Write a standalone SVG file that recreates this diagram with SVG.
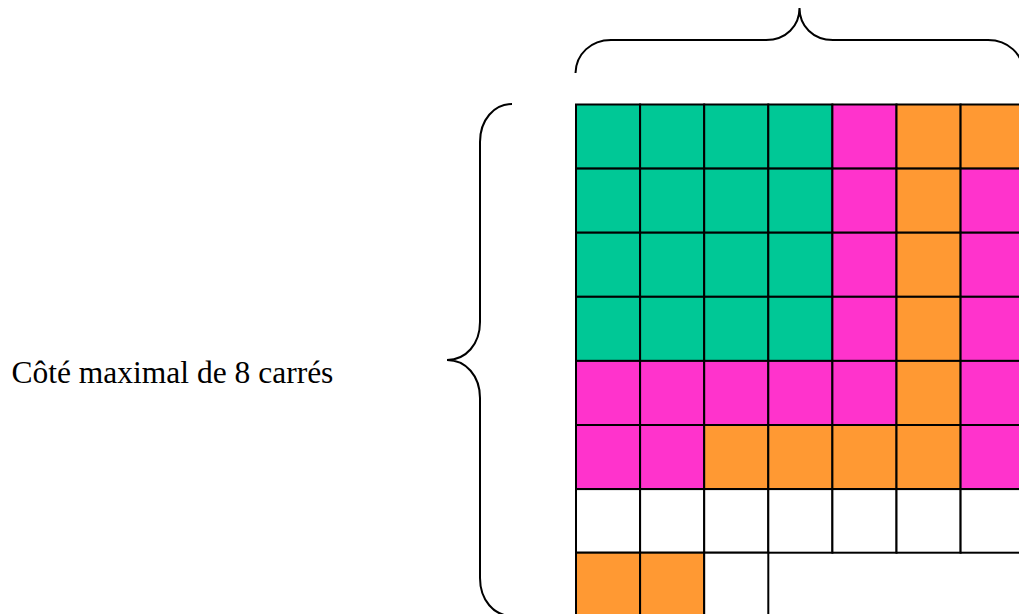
<svg xmlns="http://www.w3.org/2000/svg" width="1019" height="614" viewBox="0 0 1019 614">
<style>
.g{fill:#00C896}.m{fill:#FF33CC}.o{fill:#FF9933}.w{fill:#FFFFFF}
.cell rect{stroke:#000;stroke-width:2}
.brace{fill:none;stroke:#000;stroke-width:2}
.lbl{font-family:"Liberation Serif","Times New Roman",serif;font-size:31.5px;fill:#000}
</style>
<rect width="1019" height="614" fill="#fff"/>
<g id="grid" class="cell">
<!-- row 0 -->
<rect class="g" x="576" y="104.5" width="64.1" height="64.1"/>
<rect class="g" x="640.1" y="104.5" width="64.1" height="64.1"/>
<rect class="g" x="704.2" y="104.5" width="64.1" height="64.1"/>
<rect class="g" x="768.3" y="104.5" width="64.1" height="64.1"/>
<rect class="m" x="832.4" y="104.5" width="64.1" height="64.1"/>
<rect class="o" x="896.5" y="104.5" width="64.1" height="64.1"/>
<rect class="o" x="960.6" y="104.5" width="64.1" height="64.1"/>
<!-- row 1 -->
<rect class="g" x="576" y="168.6" width="64.1" height="64.1"/>
<rect class="g" x="640.1" y="168.6" width="64.1" height="64.1"/>
<rect class="g" x="704.2" y="168.6" width="64.1" height="64.1"/>
<rect class="g" x="768.3" y="168.6" width="64.1" height="64.1"/>
<rect class="m" x="832.4" y="168.6" width="64.1" height="64.1"/>
<rect class="o" x="896.5" y="168.6" width="64.1" height="64.1"/>
<rect class="m" x="960.6" y="168.6" width="64.1" height="64.1"/>
<!-- row 2 -->
<rect class="g" x="576" y="232.7" width="64.1" height="64.1"/>
<rect class="g" x="640.1" y="232.7" width="64.1" height="64.1"/>
<rect class="g" x="704.2" y="232.7" width="64.1" height="64.1"/>
<rect class="g" x="768.3" y="232.7" width="64.1" height="64.1"/>
<rect class="m" x="832.4" y="232.7" width="64.1" height="64.1"/>
<rect class="o" x="896.5" y="232.7" width="64.1" height="64.1"/>
<rect class="m" x="960.6" y="232.7" width="64.1" height="64.1"/>
<!-- row 3 -->
<rect class="g" x="576" y="296.8" width="64.1" height="64.1"/>
<rect class="g" x="640.1" y="296.8" width="64.1" height="64.1"/>
<rect class="g" x="704.2" y="296.8" width="64.1" height="64.1"/>
<rect class="g" x="768.3" y="296.8" width="64.1" height="64.1"/>
<rect class="m" x="832.4" y="296.8" width="64.1" height="64.1"/>
<rect class="o" x="896.5" y="296.8" width="64.1" height="64.1"/>
<rect class="m" x="960.6" y="296.8" width="64.1" height="64.1"/>
<!-- row 4 -->
<rect class="m" x="576" y="360.9" width="64.1" height="64.1"/>
<rect class="m" x="640.1" y="360.9" width="64.1" height="64.1"/>
<rect class="m" x="704.2" y="360.9" width="64.1" height="64.1"/>
<rect class="m" x="768.3" y="360.9" width="64.1" height="64.1"/>
<rect class="m" x="832.4" y="360.9" width="64.1" height="64.1"/>
<rect class="o" x="896.5" y="360.9" width="64.1" height="64.1"/>
<rect class="m" x="960.6" y="360.9" width="64.1" height="64.1"/>
<!-- row 5 -->
<rect class="m" x="576" y="425" width="64.1" height="64.1"/>
<rect class="m" x="640.1" y="425" width="64.1" height="64.1"/>
<rect class="o" x="704.2" y="425" width="64.1" height="64.1"/>
<rect class="o" x="768.3" y="425" width="64.1" height="64.1"/>
<rect class="o" x="832.4" y="425" width="64.1" height="64.1"/>
<rect class="o" x="896.5" y="425" width="64.1" height="64.1"/>
<rect class="m" x="960.6" y="425" width="64.1" height="64.1"/>
<!-- row 6 -->
<rect class="w" x="576" y="489.1" width="64.1" height="63.6"/>
<rect class="w" x="640.1" y="489.1" width="64.1" height="63.6"/>
<rect class="w" x="704.2" y="489.1" width="64.1" height="63.6"/>
<rect class="w" x="768.3" y="489.1" width="64.1" height="63.6"/>
<rect class="w" x="832.4" y="489.1" width="64.1" height="63.6"/>
<rect class="w" x="896.5" y="489.1" width="64.1" height="63.6"/>
<rect class="w" x="960.6" y="489.1" width="64.1" height="63.6"/>
<!-- row 7 -->
<rect class="o" x="576" y="552.7" width="64.1" height="64.1"/>
<rect class="o" x="640.1" y="552.7" width="64.1" height="64.1"/>
<rect class="w" x="704.2" y="552.7" width="64.1" height="64.1"/>
</g>
<g id="braces">
<path id="brace-left" class="brace" d="M512,104 C494,104 480,120 480,142 L480,322 C480,344 466,360 447,360 C466,360 480,376 480,398 L480,578 C480,600 494,616 512,616"/>
<path id="brace-top" class="brace" d="M575.5,73 C576,54 591,40 611,40 L766,40 C786,40 799.5,26 799.5,8 C799.5,26 813,40 833,40 L988,40 C1008,40 1023,54 1023.5,73"/>
</g>
<g id="label">
<text class="lbl" x="11.5" y="383">Côté maximal de 8 carrés</text>
</g>
</svg>
